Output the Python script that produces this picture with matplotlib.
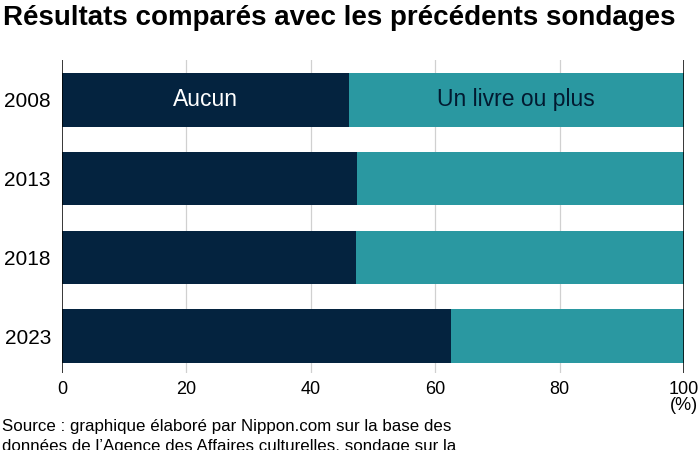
import matplotlib.pyplot as plt
import numpy as np

plt.rcParams['font.family'] = ['Liberation Sans', 'DejaVu Sans']

# donnees (%)
years = ['2008', '2013', '2018', '2023']
aucun = [46.1, 47.5, 47.3, 62.6]
un_livre = [53.9, 52.5, 52.7, 37.4]

navy = '#04233f'
teal = '#2a98a1'

fig = plt.figure(figsize=(7, 4.5), dpi=100)
ax = fig.add_axes([62 / 700, 1 - 373 / 450, 622 / 700, 313 / 450])

y = np.arange(len(years))
ax.barh(y, aucun, height=0.68, color=navy, zorder=2)
ax.barh(y, un_livre, left=aucun, height=0.68, color=teal, zorder=2)

# etiquettes dans la premiere barre
ax.text(aucun[0] / 2, 0, 'Aucun', color='white', fontsize=16.5,
        ha='center', va='center', zorder=3)
ax.text(aucun[0] + un_livre[0] / 2, 0, 'Un livre ou plus', color='#021a30',
        fontsize=16.5, ha='center', va='center', zorder=3)

ax.set_xlim(0, 100)
ax.set_ylim(len(years) - 0.53, -0.506)
ax.set_yticks(y)
ax.set_yticklabels(years, fontsize=15)
ax.set_xticks([0, 20, 40, 60, 80, 100])
ax.set_xticklabels(['0', '20', '40', '60', '80', '100'], fontsize=13)
ax.tick_params(axis='y', length=0, pad=8)
ax.tick_params(axis='x', length=0, pad=6)

for s in ax.spines.values():
    s.set_visible(False)

for v in [20, 40, 60, 80]:
    ax.axvline(v, color='#d0d0d0', lw=0.9, zorder=1)
for v in [0, 100]:
    ax.axvline(v, color='black', lw=1.1, zorder=3)

fig.text(684 / 700, 1 - 406 / 450, '(%)', fontsize=13, ha='center', va='center')

fig.text(3 / 700, 1 - 18 / 450, 'Résultats comparés avec les précédents sondages',
         fontsize=20, fontweight='bold', ha='left', va='center')

fig.text(2 / 700, 1 - 427 / 450,
         'Source : graphique élaboré par Nippon.com sur la base des',
         fontsize=12.2, ha='left', va='center')
fig.text(2 / 700, 1 - 447 / 450,
         'données de l\u2019Agence des Affaires culturelles, sondage sur la',
         fontsize=12.2, ha='left', va='center')

fig.savefig('out.png', dpi=100)
